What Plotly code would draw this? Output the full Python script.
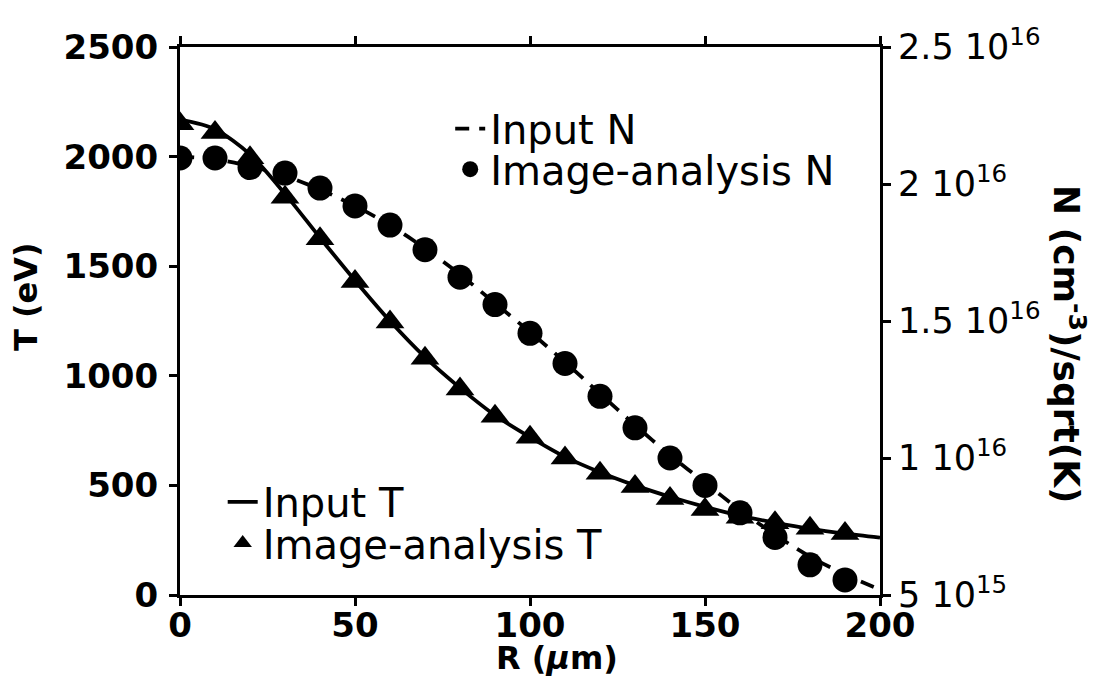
import plotly.graph_objects as go

# ---- data ----
R_line = [0, 10, 20, 30, 40, 50, 60, 70, 80, 90, 100, 110, 120, 130, 140, 150, 160, 170, 180, 190, 200]
R_pts = [0, 10, 20, 30, 40, 50, 60, 70, 80, 90, 100, 110, 120, 130, 140, 150, 160, 170, 180, 190]

T_input = [2170, 2125, 2010, 1830, 1630, 1435, 1250, 1085, 945, 820, 720, 630, 560, 500, 448, 402, 362, 330, 302, 280, 262]
T_image = [2150, 2110, 1995, 1815, 1625, 1430, 1245, 1080, 940, 815, 720, 625, 555, 495, 440, 390, 355, 330, 305, 280]

N_input = [2.10e16, 2.09e16, 2.065e16, 2.03e16, 1.98e16, 1.92e16, 1.85e16, 1.765e16, 1.67e16, 1.565e16,
           1.46e16, 1.35e16, 1.235e16, 1.12e16, 1.01e16, 9.1e15, 8.1e15, 7.2e15, 6.4e15, 5.75e15, 5.2e15]
N_image = [2.095e16, 2.095e16, 2.06e16, 2.04e16, 1.985e16, 1.92e16, 1.85e16, 1.76e16, 1.66e16, 1.56e16,
           1.455e16, 1.345e16, 1.225e16, 1.11e16, 1.0e16, 9.0e15, 8.0e15, 7.1e15, 6.1e15, 5.55e15]

x_ticks = [0, 50, 100, 150, 200]
T_ticks = [0, 500, 1000, 1500, 2000, 2500]
N_tickvals = [5e15, 1e16, 1.5e16, 2e16, 2.5e16]
N_ticktext = ["5 10<sup>15</sup>", "1 10<sup>16</sup>", "1.5 10<sup>16</sup>",
              "2 10<sup>16</sup>", "2.5 10<sup>16</sup>"]

FONT = "DejaVu Sans"
BLACK = "black"

fig = go.Figure()

fig.add_trace(go.Scatter(
    x=R_line, y=T_input, mode="lines", name="Input T",
    line=dict(color=BLACK, width=3.8, shape="spline", smoothing=0.8),
    legend="legend3"))
fig.add_trace(go.Scatter(
    x=R_pts, y=T_image, mode="markers", name="Image-analysis T",
    marker=dict(symbol="triangle-up", size=25, color=BLACK),
    legend="legend4"))
fig.add_trace(go.Scatter(
    x=R_line, y=N_input, mode="lines", name="Input N", yaxis="y2",
    line=dict(color=BLACK, width=3.8, dash="14px,10px", shape="spline", smoothing=0.8),
    legend="legend"))
fig.add_trace(go.Scatter(
    x=R_pts, y=N_image, mode="markers", name="Image-analysis N", yaxis="y2",
    marker=dict(symbol="circle", size=25, color=BLACK),
    legend="legend2"))

axis_common = dict(showgrid=False, zeroline=False, showline=True, linecolor=BLACK,
                   linewidth=3, ticks="outside", ticklen=8, tickwidth=3, tickcolor=BLACK,
                   automargin=False)


def leg(x, y):
    return dict(x=x, y=y, xanchor="left", yanchor="middle",
                bgcolor="rgba(0,0,0,0)", borderwidth=0,
                font=dict(family=FONT, size=40, color=BLACK),
                itemwidth=30, tracegroupgap=0)


# the page body adds an 8px margin, so the figure is 8px smaller on each side
fig.update_layout(
    width=1100, height=689,
    margin=dict(l=172, r=228, t=39, b=102, autoexpand=False),
    paper_bgcolor="white", plot_bgcolor="white",
    font=dict(family=FONT, color=BLACK),
    xaxis=dict(range=[0, 200], tickvals=x_ticks, mirror="ticks", ticklabelstandoff=-10,
               tickfont=dict(family=FONT, size=34, color=BLACK, weight="bold"),
               **axis_common),
    yaxis=dict(range=[0, 2500], tickvals=T_ticks, ticklabelstandoff=4,
               tickfont=dict(family=FONT, size=34, color=BLACK, weight="bold"),
               **axis_common),
    yaxis2=dict(range=[5e15, 2.5e16], tickvals=N_tickvals, ticktext=N_ticktext,
                overlaying="y", side="right",
                tickfont=dict(family=FONT, size=35, color=BLACK),
                **axis_common),
    legend=leg(0.386, 0.851),
    legend2=leg(0.386, 0.777),
    legend3=leg(0.061, 0.170),
    legend4=leg(0.061, 0.095),
    annotations=[
        dict(text="T (eV)", xref="paper", yref="paper", x=-0.219, y=0.545,
             textangle=-90, showarrow=False, xanchor="center", yanchor="middle",
             font=dict(family=FONT, size=32, color=BLACK, weight="bold")),
        dict(text="R (<i>μ</i>m)", xref="paper", yref="paper", x=0.539, y=-0.115,
             showarrow=False, xanchor="center", yanchor="middle",
             font=dict(family=FONT, size=32, color=BLACK, weight="bold")),
        dict(text="N (cm<sup>-3</sup>)/sqrt(K)", xref="paper", yref="paper", x=1.27, y=0.458,
             textangle=90, showarrow=False, xanchor="center", yanchor="middle",
             font=dict(family=FONT, size=36, color=BLACK, weight="bold")),
    ],
    showlegend=True,
)

fig.write_html("out.html")
